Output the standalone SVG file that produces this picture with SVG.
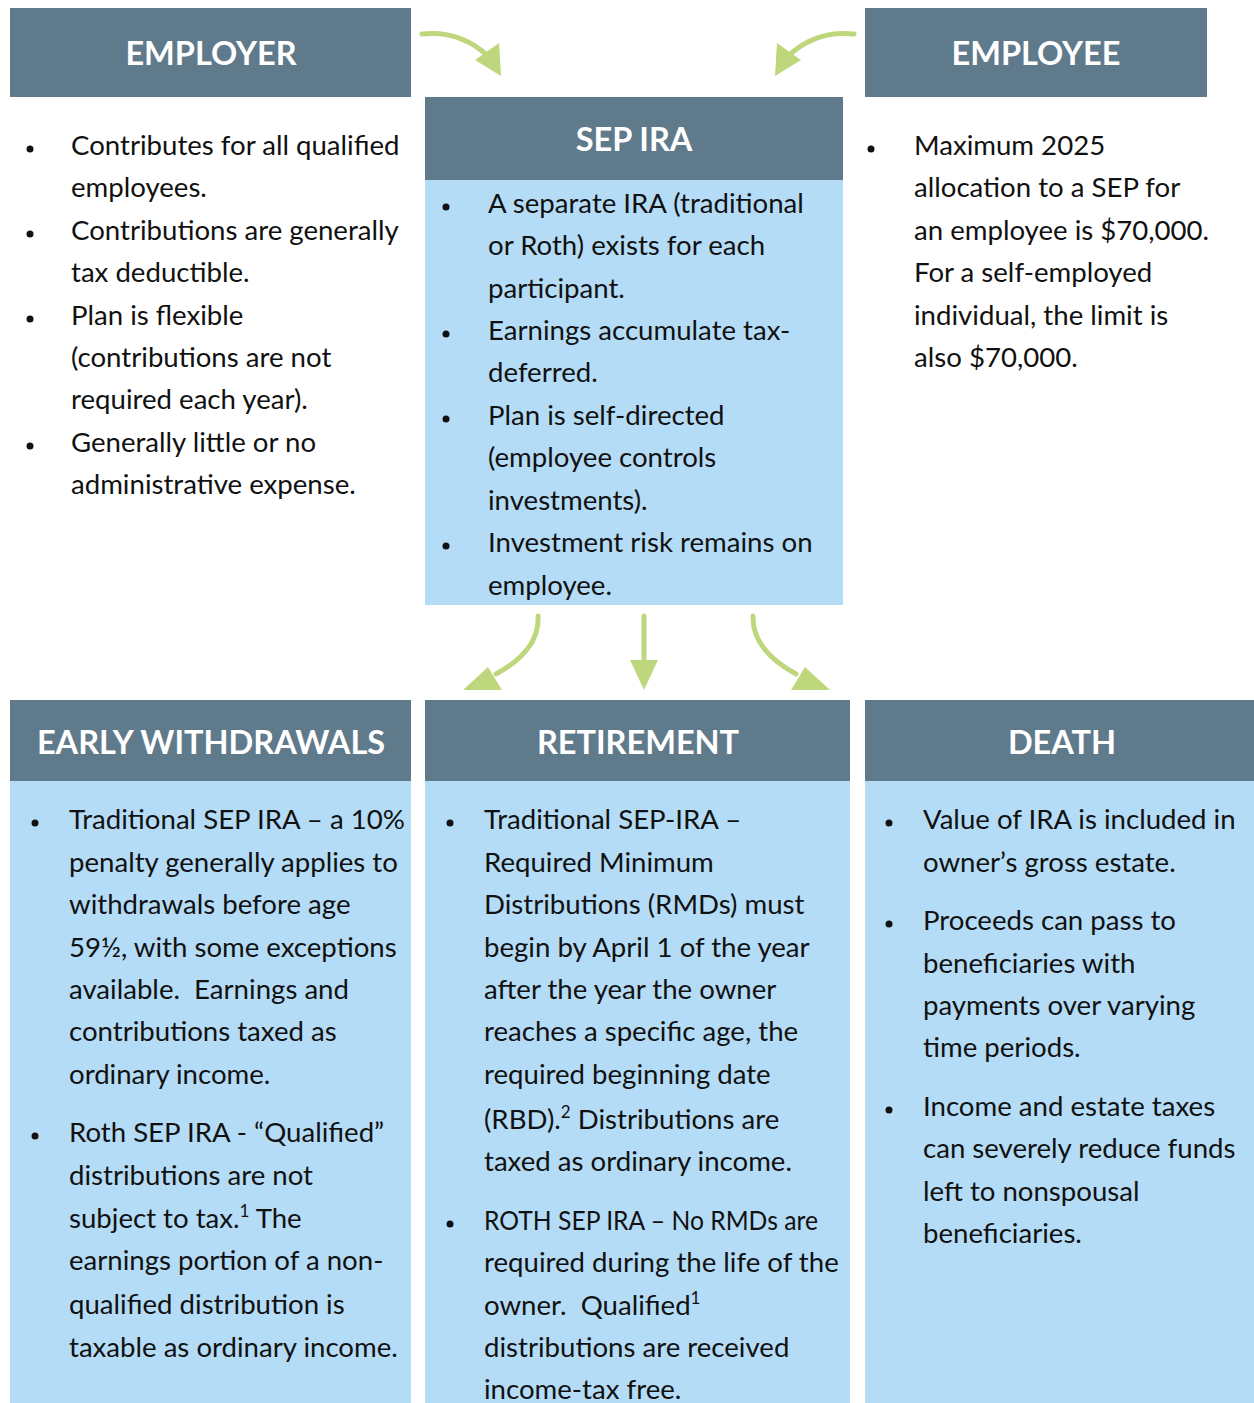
<svg xmlns="http://www.w3.org/2000/svg" width="1254" height="1403" viewBox="0 0 1254 1403">
<style>
.hdr{fill:#5f7a8b}
.body{fill:#b4dcf6}
.ht{font-family:Lato,"Liberation Sans",sans-serif;font-weight:bold;font-size:32.5px;fill:#ffffff;text-anchor:middle}
.t{font-family:Lato,"Liberation Sans",sans-serif;font-size:27.6px;fill:#111111}
.sup{font-size:17px}
.arr{fill:none;stroke:#bfd77c;stroke-width:5;stroke-linecap:round}
.ah{fill:#bfd77c}
</style>
<rect width="1254" height="1403" fill="#ffffff"/>

<g id="employer">
<rect class="hdr" x="10" y="8" width="401" height="89"/>
<text class="ht" x="211" y="65">EMPLOYER</text>
<g class="t">
<circle cx="30" cy="149" r="3.5"/><circle cx="30" cy="234" r="3.5"/><circle cx="30" cy="319" r="3.5"/><circle cx="30" cy="446" r="3.5"/>
<text x="71" y="155">Contributes for all qualified</text>
<text x="71" y="197">employees.</text>
<text x="71" y="240">Contributions are generally</text>
<text x="71" y="282">tax deductible.</text>
<text x="71" y="325">Plan is flexible</text>
<text x="71" y="367">(contributions are not</text>
<text x="71" y="409">required each year).</text>
<text x="71" y="452">Generally little or no</text>
<text x="71" y="494">administrative expense.</text>
</g>
</g>

<g id="employee">
<rect class="hdr" x="865" y="8" width="342" height="89"/>
<text class="ht" x="1036" y="65">EMPLOYEE</text>
<g class="t">
<circle cx="871" cy="149" r="3.5"/>
<text x="914" y="155">Maximum 2025</text>
<text x="914" y="197">allocation to a SEP for</text>
<text x="914" y="240">an employee is $70,000.</text>
<text x="914" y="282">For a self-employed</text>
<text x="914" y="325">individual, the limit is</text>
<text x="914" y="367">also $70,000.</text>
</g>
</g>

<g id="sepira">
<rect class="hdr" x="425" y="97" width="418" height="83"/>
<rect class="body" x="425" y="180" width="418" height="425"/>
<text class="ht" x="634" y="151">SEP IRA</text>
<g class="t">
<circle cx="446" cy="207" r="3.5"/><circle cx="446" cy="334" r="3.5"/><circle cx="446" cy="419" r="3.5"/><circle cx="446" cy="546" r="3.5"/>
<text x="488" y="213">A separate IRA (traditional</text>
<text x="488" y="255">or Roth) exists for each</text>
<text x="488" y="298">participant.</text>
<text x="488" y="340">Earnings accumulate tax-</text>
<text x="488" y="382">deferred.</text>
<text x="488" y="425">Plan is self-directed</text>
<text x="488" y="467">(employee controls</text>
<text x="488" y="510">investments).</text>
<text x="488" y="552">Investment risk remains on</text>
<text x="488" y="595">employee.</text>
</g>
</g>

<g id="early">
<rect class="hdr" x="10" y="700" width="401" height="81"/>
<rect class="body" x="10" y="781" width="401" height="622"/>
<text class="ht" x="211" y="754">EARLY WITHDRAWALS</text>
<g class="t">
<circle cx="35" cy="823" r="3.5"/><circle cx="35" cy="1136" r="3.5"/>
<text x="69" y="829">Traditional SEP IRA – a 10%</text>
<text x="69" y="872">penalty generally applies to</text>
<text x="69" y="914">withdrawals before age</text>
<text x="69" y="957">59½, with some exceptions</text>
<text x="69" y="999">available.&#160; Earnings and</text>
<text x="69" y="1041">contributions taxed as</text>
<text x="69" y="1084">ordinary income.</text>
<text x="69" y="1142">Roth SEP IRA - “Qualified”</text>
<text x="69" y="1185">distributions are not</text>
<text x="69" y="1228">subject to tax.<tspan class="sup" dy="-11">1</tspan><tspan dy="11"> The</tspan></text>
<text x="69" y="1270">earnings portion of a non-</text>
<text x="69" y="1314">qualified distribution is</text>
<text x="69" y="1357">taxable as ordinary income.</text>
</g>
</g>

<g id="retirement">
<rect class="hdr" x="425" y="700" width="425" height="81"/>
<rect class="body" x="425" y="781" width="425" height="622"/>
<text class="ht" x="638" y="754">RETIREMENT</text>
<g class="t">
<circle cx="450" cy="823" r="3.5"/><circle cx="450" cy="1224" r="3.5"/>
<text x="484" y="829">Traditional SEP-IRA –</text>
<text x="484" y="872">Required Minimum</text>
<text x="484" y="914">Distributions (RMDs) must</text>
<text x="484" y="957">begin by April 1 of the year</text>
<text x="484" y="999">after the year the owner</text>
<text x="484" y="1041">reaches a specific age, the</text>
<text x="484" y="1084">required beginning date</text>
<text x="484" y="1129">(RBD).<tspan class="sup" dy="-11">2</tspan><tspan dy="11"> Distributions are</tspan></text>
<text x="484" y="1171">taxed as ordinary income.</text>
<text x="484" y="1230" textLength="334" lengthAdjust="spacingAndGlyphs">ROTH SEP IRA – No RMDs are</text>
<text x="484" y="1272">required during the life of the</text>
<text x="484" y="1315">owner.&#160; Qualified<tspan class="sup" dy="-11">1</tspan></text>
<text x="484" y="1357">distributions are received</text>
<text x="484" y="1399">income-tax free.</text>
</g>
</g>

<g id="death">
<rect class="hdr" x="865" y="700" width="389" height="81"/>
<rect class="body" x="865" y="781" width="389" height="622"/>
<text class="ht" x="1062" y="754">DEATH</text>
<g class="t">
<circle cx="889" cy="823" r="3.5"/><circle cx="889" cy="924" r="3.5"/><circle cx="889" cy="1110" r="3.5"/>
<text x="923" y="829">Value of IRA is included in</text>
<text x="923" y="872">owner’s gross estate.</text>
<text x="923" y="930">Proceeds can pass to</text>
<text x="923" y="973">beneficiaries with</text>
<text x="923" y="1015">payments over varying</text>
<text x="923" y="1057">time periods.</text>
<text x="923" y="1116">Income and estate taxes</text>
<text x="923" y="1158">can severely reduce funds</text>
<text x="923" y="1201">left to nonspousal</text>
<text x="923" y="1243">beneficiaries.</text>
</g>
</g>

<g id="connectors">
<path class="arr" d="M422,34 Q460,30 488,56"/>
<polygon class="ah" points="499,43 475,60 501,76"/>
<path class="arr" d="M854,34 Q816,30 788,56"/>
<polygon class="ah" points="777,43 801,60 775,76"/>
<path class="arr" d="M538,616 Q540,650 496,674"/>
<polygon class="ah" points="488,667 502,690 463,690"/>
<path class="arr" d="M644,616 L644,662"/>
<polygon class="ah" points="630,660 658,660 644,690"/>
<path class="arr" d="M753,616 Q752,650 796,674"/>
<polygon class="ah" points="805,667 791,690 830,690"/>
</g>
</svg>
